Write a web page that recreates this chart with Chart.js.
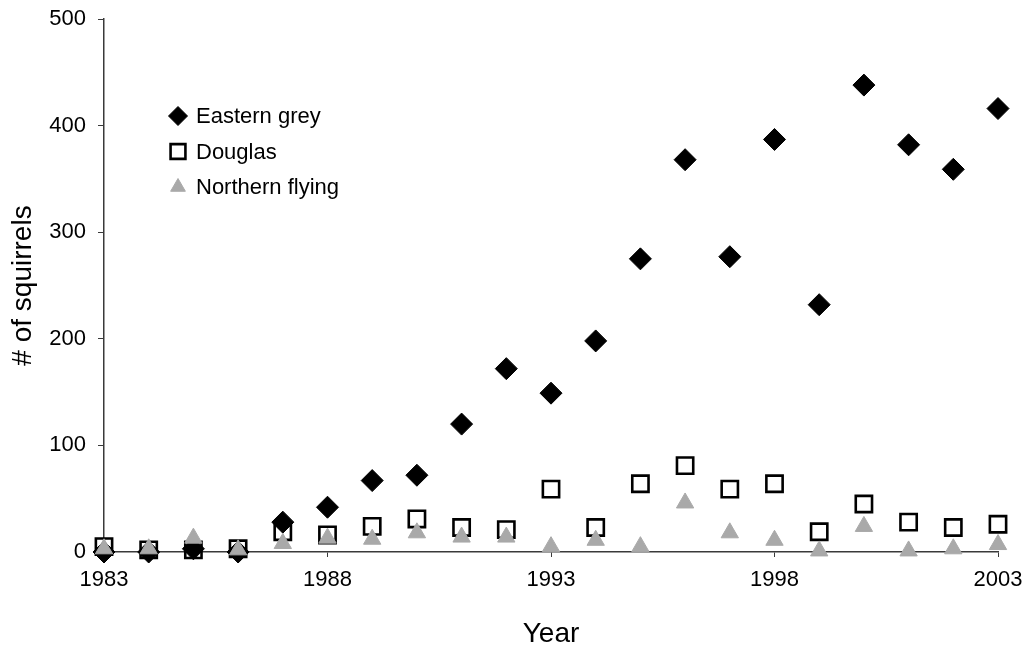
<!DOCTYPE html>
<html>
<head>
<meta charset="utf-8">
<script src="https://cdn.jsdelivr.net/npm/chart.js@4/dist/chart.umd.min.js"></script>
<style>
  html, body { margin: 0; padding: 0; background: #fff; }
  canvas { display: block; }
</style>
</head>
<body>
<canvas id="chart" width="1036" height="645"></canvas>
<script>
// years 1983-2003
const years = [1983, 1984, 1985, 1986, 1987, 1988, 1989, 1990, 1991, 1992, 1993,
    1994, 1995, 1996, 1997, 1998, 1999, 2000, 2001, 2002, 2003];
const easternGrey = [0, 0, 3, 0, 28, 42, 67, 72, 120, 172, 149,
    198, 275, 368, 277, 387, 232, 438, 382, 359, 416];
const douglas = [5, 2, 2, 3, 19, 16, 24, 31, 23, 21, 59,
    23, 64, 81, 59, 64, 19, 45, 28, 23, 26];
const northernFlying = [3, 3, 13, 2, 8, 13, 12, 18, 14, 14, 5,
    11, 5, 46, 18, 11, 1, 24, 1, 3, 7];
const yTicks = [0, 100, 200, 300, 400, 500];
const xTicks = [1983, 1988, 1993, 1998, 2003];

const FONT = '"Liberation Sans", Arial, sans-serif';
const AXIS = '#3a3a3a';
const GREY = '#a9a9a9';

const toPoints = (vals) => vals.map((v, i) => ({ x: years[i], y: v }));

// legend drawn inside the plot, upper left
const insideLegend = {
    id: 'insideLegend',
    afterDatasetsDraw(chart) {
        const ctx = chart.ctx;
        const x0 = 178, y0 = 116, gap = 35.5;
        ctx.save();
        ctx.font = '22px ' + FONT;
        ctx.textBaseline = 'middle';
        chart.data.datasets.forEach((ds, i) => {
            const y = y0 + i * gap;
            ctx.fillStyle = ds.pointBackgroundColor;
            ctx.strokeStyle = ds.pointBorderColor;
            ctx.lineWidth = ds.pointBorderWidth;
            Chart.helpers.drawPoint(ctx, {
                pointStyle: ds.pointStyle,
                rotation: 0,
                radius: ds.legendRadius,
                borderWidth: ds.pointBorderWidth
            }, x0, y);
            ctx.fillStyle = '#000';
            ctx.fillText(ds.label, 196, y + 1);
        });
        ctx.restore();
    }
};

new Chart(document.getElementById('chart'), {
    type: 'scatter',
    data: {
        datasets: [{
            label: 'Eastern grey',
            data: toPoints(easternGrey),
            pointStyle: 'rectRot',
            pointRadius: 11,
            legendRadius: 9.5,
            pointBackgroundColor: '#000',
            pointBorderColor: '#000',
            pointBorderWidth: 1,
            clip: false,
            order: 3
        }, {
            label: 'Douglas',
            data: toPoints(douglas),
            pointStyle: 'rect',
            pointRadius: 11.5,
            legendRadius: 10.5,
            pointBackgroundColor: 'rgba(255,255,255,0)',
            pointBorderColor: '#000',
            pointBorderWidth: 2.6,
            clip: false,
            order: 2
        }, {
            label: 'Northern flying',
            data: toPoints(northernFlying),
            pointStyle: 'triangle',
            pointRadius: 10,
            legendRadius: 8.5,
            pointBackgroundColor: GREY,
            pointBorderColor: GREY,
            pointBorderWidth: 1,
            clip: false,
            order: 1
        }]
    },
    options: {
        responsive: false,
        animation: false,
        layout: { padding: { top: 19, right: 38, bottom: 0, left: 0 } },
        plugins: {
            legend: { display: false },
            tooltip: { enabled: false }
        },
        scales: {
            x: {
                type: 'linear',
                min: years[0],
                max: years[years.length - 1],
                afterFit: (scale) => { scale.height = 93; },
                afterBuildTicks: (scale) => { scale.ticks = xTicks.map(v => ({ value: v })); },
                ticks: {
                    color: '#000',
                    font: { family: FONT, size: 22 },
                    padding: 10,
                    maxRotation: 0,
                    callback: (v) => String(v)
                },
                grid: { drawOnChartArea: false, drawTicks: true, tickLength: 5, color: AXIS },
                border: { display: true, color: AXIS, width: 1.5 },
                title: {
                    display: true,
                    text: 'Year',
                    color: '#000',
                    font: { family: FONT, size: 28, lineHeight: 1 },
                    padding: { top: 0, bottom: -3 }
                }
            },
            y: {
                min: 0,
                max: 500,
                afterFit: (scale) => {
                    scale.width = 104;
                    scale.paddingTop = 0;
                    scale.paddingBottom = 0;
                },
                afterBuildTicks: (scale) => { scale.ticks = yTicks.map(v => ({ value: v })); },
                ticks: {
                    color: '#000',
                    font: { family: FONT, size: 22 },
                    padding: 12
                },
                grid: { drawOnChartArea: false, drawTicks: true, tickLength: 6, color: AXIS },
                border: { display: true, color: AXIS, width: 1.5 },
                title: {
                    display: true,
                    text: '# of squirrels',
                    color: '#000',
                    font: { family: FONT, size: 28, lineHeight: 1 },
                    padding: { top: 9, bottom: 0 }
                }
            }
        }
    },
    plugins: [insideLegend]
});
</script>
</body>
</html>
